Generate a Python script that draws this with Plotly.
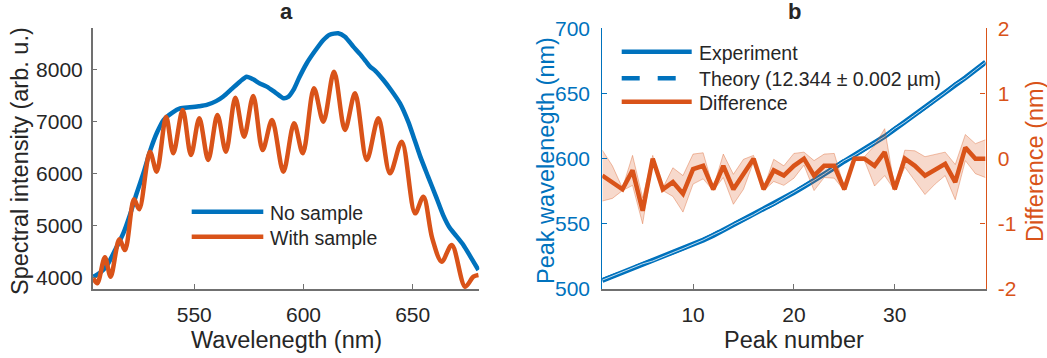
import plotly.graph_objects as go

# ---------------- data: panel a ----------------
no_sample_wl = [503.8, 507, 510, 514, 517.5, 520.5, 523.6, 527, 530, 533, 536, 540, 543.5, 548, 552,
                555.7, 560, 563.3, 567, 571, 574, 577, 580, 583.2, 587, 590.8, 593, 595.4, 598, 601.5,
                605, 609.1, 612, 615.9, 619, 622.8, 626, 628.5, 630.5, 633, 636.6, 640, 644.2, 648, 650.5,
                653.4, 657, 661, 664, 667.1, 670, 673.2, 676.5, 680.1]
no_sample_int = [4017, 4100, 4230, 4550, 4850, 5200, 5620, 6050, 6470, 6800, 7040, 7180, 7260, 7280, 7300,
                 7326, 7400, 7490, 7630, 7780, 7870, 7820, 7740, 7680, 7570, 7455, 7480, 7615, 7850, 8130,
                 8350, 8578, 8680, 8707, 8640, 8450, 8300, 8170, 8064, 7980, 7807, 7620, 7358, 7000, 6700,
                 6340, 5950, 5527, 5200, 4949, 4800, 4628, 4400, 4146]

with_sample_wl = [503.8, 505.6, 509.1, 511.7, 515.7, 518.3, 522.4, 524.8, 529.7, 532.8, 537.1, 540.4,
                  544.7, 548.5, 552.3, 556.4, 560.6, 564.5, 568.8, 572.8, 577.0, 581.3, 585.6, 590.8,
                  595.7, 599.7, 604.8, 609.1, 614.0, 619.0, 623.6, 629.0, 634.3, 639.6, 645.0, 651.1,
                  654.9, 659.0, 663.3, 667.9, 674.0, 677.8, 680.1]
with_sample_int = [3986, 3889, 4391, 4017, 4737, 4531, 5508, 5316, 6426, 6040, 7100, 6394,
                   7229, 6362, 7069, 6266, 7133, 6426, 7467, 6715, 7499, 6458, 7036, 6040,
                   6973, 6394, 7647, 7004, 7968, 6844, 7551, 6266, 7069, 6009, 6618, 5239,
                   5559, 4750, 4306, 4628, 3824, 4017, 4050]

# ---------------- data: panel b ----------------
peak_number = list(range(1, 40))
experiment = [506.5, 509.5, 512.5, 515.5, 518.5, 521.5, 524.5, 527.5, 530.5, 534, 537.5, 541, 545, 549,
              553, 557, 561, 565, 569.5, 574, 578.5, 583, 588, 593, 598, 602.5, 607, 612, 617, 622.5,
              628, 633.5, 639, 644.5, 650.5, 656.5, 662, 668, 674]
theory = [506.8, 509.8, 512.9, 515.7, 519.3, 521.5, 525.0, 527.9, 531.0, 534.2, 537.6, 541.5, 545.1,
          549.5, 553.2, 557.0, 561.5, 565.2, 569.8, 574.1, 578.5, 583.3, 588.1, 593.1, 598.5, 602.5,
          607.0, 612.1, 616.9, 623.0, 628.0, 633.6, 639.3, 644.7, 650.6, 656.9, 661.8, 668.0, 674.0]
difference = [-0.26, -0.36, -0.47, -0.18, -0.80, 0.00, -0.47, -0.36, -0.54, -0.16, -0.11, -0.47, -0.11,
              -0.47, -0.24, 0.00, -0.47, -0.18, -0.26, -0.11, 0.00, -0.26, -0.11, -0.11, -0.47, 0.00,
              0.00, -0.11, 0.10, -0.47, 0.00, -0.11, -0.26, -0.16, -0.08, -0.36, 0.17, 0.00, 0.00]
difference_err = [0.39, 0.25, 0.02, 0.23, 0.20, 0.05, 0.02, 0.22, 0.28, 0.23, 0.20, 0.02, 0.18,
                  0.23, 0.23, 0.05, 0.02, 0.17, 0.15, 0.19, 0.10, 0.23, 0.18, 0.19, 0.02, 0.03,
                  0.03, 0.31, 0.36, 0.02, 0.13, 0.23, 0.29, 0.23, 0.18, 0.27, 0.20, 0.23, 0.29]

a_xticks = [550, 600, 650]
a_yticks = [4000, 5000, 6000, 7000, 8000]
b_xticks = [10, 20, 30]
b_yticks_left = [500, 550, 600, 650, 700]
b_yticks_right = [-2, -1, 0, 1, 2]
b_yticklabels_right = ["-2", "-1", "0", "1", "2"]

# ---------------- style ----------------
BLUE = "#0072BD"
ORANGE = "#D95319"
TXT = "#262626"
AX = "#707070"
FONT = "Liberation Sans, Arial, sans-serif"
W, H = 1047, 358


def fx(px):
    return px / W


def fy(py):
    return 1 - py / H


A_L, A_R = 92.7, 479.3
B_L, B_R = 602.3, 985.5
TOP, BOT = 28.3, 289.0

fig = go.Figure()

# panel a
fig.add_trace(go.Scatter(x=no_sample_wl, y=no_sample_int, mode="lines", name="No sample",
                         line=dict(color=BLUE, width=4.5, shape="spline", smoothing=0.6),
                         xaxis="x", yaxis="y", showlegend=False))
fig.add_trace(go.Scatter(x=with_sample_wl, y=with_sample_int, mode="lines", name="With sample",
                         line=dict(color=ORANGE, width=4.5, shape="spline", smoothing=0.9),
                         xaxis="x", yaxis="y", showlegend=False))

# panel b
fig.add_trace(go.Scatter(x=peak_number, y=experiment, mode="lines", name="Experiment",
                         line=dict(color=BLUE, width=5), xaxis="x2", yaxis="y2", showlegend=False))
fig.add_trace(go.Scatter(x=peak_number, y=theory, mode="lines", name="Theory (12.344 ± 0.002 µm)",
                         line=dict(color=BLUE, width=4, dash="18px,18px"), xaxis="x2", yaxis="y2",
                         showlegend=False))
fig.add_trace(go.Scatter(x=peak_number, y=theory, mode="lines", hoverinfo="skip",
                         line=dict(color="rgba(255,255,255,0.75)", width=1), xaxis="x2", yaxis="y2",
                         showlegend=False))

upper = [d + e for d, e in zip(difference, difference_err)]
lower = [d - e for d, e in zip(difference, difference_err)]
fig.add_trace(go.Scatter(x=peak_number, y=upper, mode="lines",
                         line=dict(color="rgba(217,83,25,0.45)", width=0.8),
                         xaxis="x2", yaxis="y3", showlegend=False, hoverinfo="skip"))
fig.add_trace(go.Scatter(x=peak_number, y=lower, mode="lines", fill="tonexty",
                         fillcolor="rgba(217,83,25,0.22)",
                         line=dict(color="rgba(217,83,25,0.45)", width=0.8),
                         xaxis="x2", yaxis="y3", showlegend=False, hoverinfo="skip"))
fig.add_trace(go.Scatter(x=peak_number, y=difference, mode="lines", name="Difference",
                         line=dict(color=ORANGE, width=4.5), xaxis="x2", yaxis="y3", showlegend=False))

tickfont = dict(family=FONT, size=21, color=TXT)
common = dict(showgrid=False, zeroline=False, automargin=False, ticks="inside", ticklen=5, tickwidth=1,
              showline=True)

fig.update_layout(
    width=W, height=H, margin=dict(l=0, r=0, t=0, b=0, autoexpand=False),
    paper_bgcolor="white", plot_bgcolor="white",
    font=dict(family=FONT, color=TXT),
    xaxis=dict(domain=[fx(A_L), fx(A_R)], range=[503.5, 680.5], anchor="y",
               tickvals=a_xticks, tickcolor=AX, linecolor=AX, linewidth=1.5,
               tickfont=tickfont, ticklabelstandoff=6, **common),
    yaxis=dict(domain=[fy(BOT), fy(TOP)], range=[3780, 8803], anchor="x",
               tickvals=a_yticks, tickcolor=AX, linecolor=AX, linewidth=1.5,
               tickfont=tickfont, ticklabelstandoff=4, **common),
    xaxis2=dict(domain=[fx(B_L), fx(B_R)], range=[1, 39], anchor="y2",
                tickvals=b_xticks, tickcolor=AX, linecolor=AX, linewidth=1.5,
                tickfont=tickfont, ticklabelstandoff=6, **common),
    yaxis2=dict(domain=[fy(BOT), fy(TOP)], range=[500, 700], anchor="x2",
                tickvals=b_yticks_left, tickcolor=BLUE, linecolor=BLUE, linewidth=1.2,
                tickfont=dict(family=FONT, size=21, color=BLUE), ticklabelstandoff=7, **common),
    yaxis3=dict(range=[-2, 2], overlaying="y2", anchor="x2", side="right",
                tickvals=b_yticks_right, ticktext=b_yticklabels_right,
                tickcolor=ORANGE, linecolor=ORANGE, linewidth=1.2,
                tickfont=dict(family=FONT, size=21, color=ORANGE), ticklabelstandoff=7, **common),
)

ann = []


def add_text(text, px, py, size, color=TXT, angle=0, xanchor="center", bold=False):
    ann.append(dict(text=f"<b>{text}</b>" if bold else text, x=fx(px), y=fy(py),
                    xref="paper", yref="paper", showarrow=False, textangle=angle,
                    xanchor=xanchor, yanchor="middle",
                    font=dict(family=FONT, size=size, color=color)))


add_text("a", 286, 11, 22, bold=True)
add_text("b", 794, 11, 22, bold=True)
add_text("Wavelenegth (nm)", 286, 340, 23.5)
add_text("Peak number", 794, 340, 23.5)
add_text("Spectral intensity (arb. u.)", 20, 161, 23.5, angle=-90)
add_text("Peak wavelenegth (nm)", 546, 161, 23.5, color=BLUE, angle=-90)
add_text("Difference (nm)", 1035, 161, 23.5, color=ORANGE, angle=-90)

# legends (drawn manually to match line-sample length)
shapes = []


def legend_item(x0, x1, py, color, label, tx, dash="solid"):
    shapes.append(dict(type="line", xref="paper", yref="paper", x0=fx(x0), x1=fx(x1),
                       y0=fy(py), y1=fy(py), line=dict(color=color, width=4.5, dash=dash)))
    add_text(label, tx, py + 1, 19.5, xanchor="left")


legend_item(191.7, 263.3, 211.7, BLUE, "No sample", 268)
legend_item(191.7, 263.3, 236.7, ORANGE, "With sample", 268)
legend_item(621.7, 691.7, 51.7, BLUE, "Experiment", 697)
legend_item(621.7, 691.7, 78.3, BLUE, "Theory (12.344 ± 0.002 µm)", 697, dash="18px,18px")
legend_item(621.7, 691.7, 101.7, ORANGE, "Difference", 697)

fig.update_layout(annotations=ann, shapes=shapes)

fig.write_html("out.html", config={"displayModeBar": False},
               post_script="document.body.style.margin='0px';document.body.style.overflow='hidden';")
